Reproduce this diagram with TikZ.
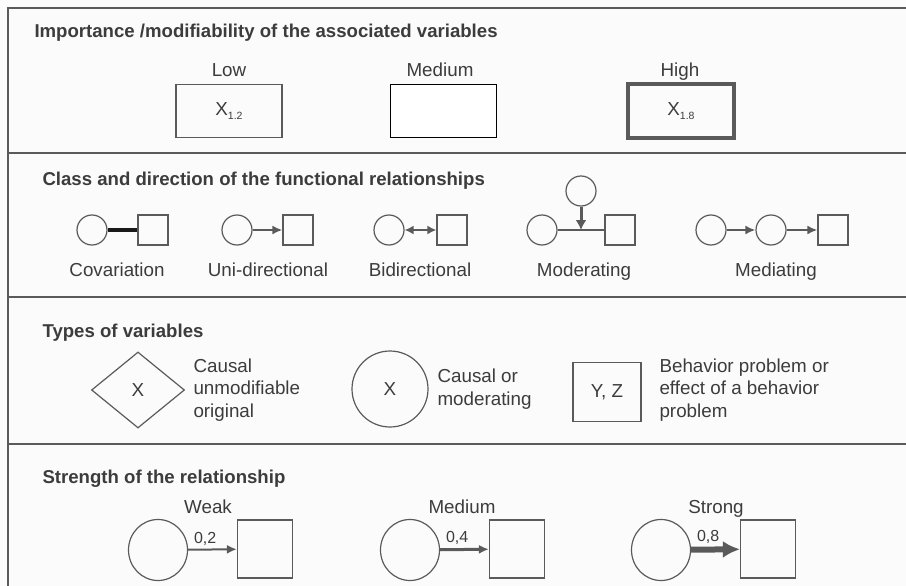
\documentclass[tikz,border=0pt]{standalone}
\usepackage{fontspec}
\setmainfont{Liberation Sans}
\usetikzlibrary{shapes.geometric, arrows.meta, positioning}

\definecolor{ink}{HTML}{3C3C3C}
\definecolor{edge}{HTML}{5A5A5A}
\definecolor{paper}{HTML}{FBFBFB}
\newcommand{\lowidx}[1]{\raisebox{-4pt}{\fontsize{10.5}{11}\selectfont #1}}

\begin{document}
\begin{tikzpicture}[
    x=1pt, y=-1pt,
    every node/.style={text=ink, font=\fontsize{18.8}{23}\selectfont},
    heading/.style={anchor=base west, font=\fontsize{18.6}{23}\selectfont\bfseries},
    caption/.style={anchor=base},
    note/.style={anchor=west, align=left, font=\fontsize{18.8}{22.5}\selectfont},
    level/.style={rectangle, draw=edge, line width=1.2pt, fill=paper, minimum width=106pt, minimum height=53pt},
    var/.style={circle, draw=edge, line width=1.2pt, fill=paper, minimum size=30pt, inner sep=0pt},
    prob/.style={rectangle, draw=edge, line width=1.2pt, fill=paper, minimum size=30pt, inner sep=0pt},
    bigvar/.style={ellipse, draw=edge, line width=1.2pt, fill=paper, minimum width=59pt, minimum height=61pt, inner sep=0pt},
    bigprob/.style={rectangle, draw=edge, line width=1.2pt, fill=paper, minimum width=55pt, minimum height=58pt},
    frame/.style={draw=edge, line width=2pt},
    covar/.style={line width=4.5pt, color=black!90},
    plain/.style={line width=1.2pt, color=edge},
    arrow/.style={-{Latex[length=10pt, width=9pt]}, line width=2pt, color=edge},
    twoway/.style={{Latex[length=9pt, width=9pt]}-{Latex[length=9pt, width=9pt]}, line width=2pt, color=edge},
    modarrow/.style={-{Latex[length=10pt, width=11pt]}, line width=3pt, color=edge},
    strongarrow/.style={-{Latex[length=17pt, width=17pt]}, line width=6pt, color=edge},
    weight/.style={font=\fontsize{16}{18}\selectfont, above=0pt, pos=0.35},
    node distance=0.4cm
]

% Page and frame
\fill[paper] (0,0) rectangle (906,586);
\useasboundingbox (0,0) rectangle (906,586);
\draw[frame] (8,600) -- (8,8) -- (920,8);
\draw[frame, line width=1.6pt] (8,153) -- (920,153);
\draw[frame, line width=1.6pt] (8,297) -- (920,297);
\draw[frame, line width=1.6pt] (8,444) -- (920,444);

% Importance of the variables
\node[heading] (imptitle) at (31,38) {Importance /modifiability of the associated variables};
\node[level] (low) at (229,111) {X\lowidx{1.2}};
\node[level, draw=black, fill=white, line width=1pt] (mid) at (443,111) {};
\node[level, line width=4pt] (high) at (681,111) {X\lowidx{1.8}};
\node[caption] (lowlbl) at (229,77) {Low};
\node[caption] (midlbl) at (440,77) {Medium};
\node[caption] (highlbl) at (680,77) {High};

% Class and direction
\node[heading] (classtitle) at (39,185) {Class and direction of the functional relationships};

\node[var] (cov1) at (92,230) {};
\node[prob] (cov2) at (153,230) {};
\draw[covar] (cov1) -- (cov2);
\node[caption] (covlbl) at (117,276) {Covariation};

\node[var] (uni1) at (237,230) {};
\node[prob] (uni2) at (298,230) {};
\draw[arrow] (uni1) -- (uni2);
\node[caption] (unilbl) at (268,276) {Uni-directional};

\node[var] (bi1) at (389,230) {};
\node[prob] (bi2) at (452,230) {};
\draw[twoway] (bi1) -- (bi2);
\node[caption] (bilbl) at (420,276) {Bidirectional};

\node[var] (mod1) at (542,230) {};
\node[prob] (mod2) at (620,230) {};
\node[var] (mod3) at (581,191) {};
\coordinate (modpt) at (581,230);
\draw[plain] (mod1) -- (mod2);
\draw[modarrow] (mod3) -- (modpt);
\node[caption] (modlbl) at (584,276) {Moderating};

\node[var] (med1) at (711,230) {};
\node[var] (med2) at (771,230) {};
\node[prob] (med3) at (833,230) {};
\draw[arrow] (med1) -- (med2);
\draw[arrow] (med2) -- (med3);
\node[caption] (medlbl) at (776,276) {Mediating};

% Types of variables
\node[heading] (typetitle) at (39,337) {Types of variables};

\node[diamond, draw=edge, line width=1.2pt, fill=paper, minimum width=93pt, minimum height=76pt, inner sep=0pt] (orig) at (138,390) {X};
\node[note] (origtxt) at (190,390) {Causal\\unmodifiable\\original};

\node[circle, draw=edge, line width=1.2pt, fill=paper, minimum size=76pt, inner sep=0pt] (caus) at (390,389) {X};
\node[note] (caustxt) at (434,389) {Causal or\\moderating};

\node[rectangle, draw=edge, line width=1.2pt, fill=paper, minimum width=68pt, minimum height=59pt] (behav) at (607,392) {Y, Z};
\node[note] (behavtxt) at (656,390) {Behavior problem or\\effect of a behavior\\problem};

% Strength of the relationship
\node[heading] (strtitle) at (39,483) {Strength of the relationship};

\node[caption] (weaklbl) at (208,513) {Weak};
\node[bigvar] (weak1) at (158,550) {};
\node[bigprob] (weak2) at (265,549) {};
\draw[arrow, line width=2pt] (weak1) -- node[weight] {0,2} (weak2);

\node[caption] (mediumlbl) at (462,513) {Medium};
\node[bigvar] (medium1) at (410,550) {};
\node[bigprob] (medium2) at (517,549) {};
\draw[arrow, line width=3pt] (medium1) -- node[weight] {0,4} (medium2);

\node[caption] (stronglbl) at (716,513) {Strong};
\node[bigvar] (strong1) at (661,550) {};
\node[bigprob] (strong2) at (768,549) {};
\draw[strongarrow] (strong1) -- node[weight] {0,8} (strong2);

\end{tikzpicture}
\end{document}
